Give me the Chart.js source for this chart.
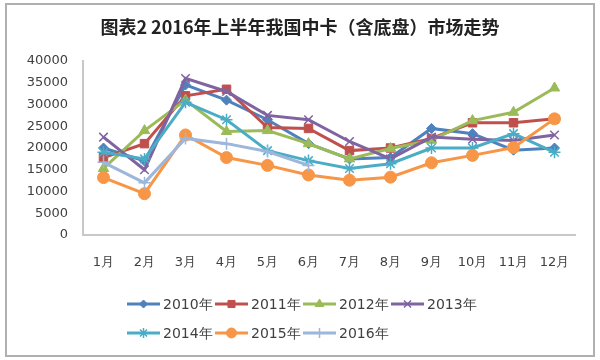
<!DOCTYPE html>
<html>
<head>
<meta charset="utf-8">
<script src="https://cdn.jsdelivr.net/npm/chart.js@4.4.0/dist/chart.umd.min.js"></script>
<style>
  html, body { margin: 0; padding: 0; background: #fff; }
  #wrap { position: relative; width: 600px; height: 360px; }
  #frame { position: absolute; left: 5px; top: 3px; width: 586px; height: 350px; border: 2px solid #b0b0b0; }
  canvas { position: absolute; left: 0; top: 0; }
</style>
</head>
<body>
<div id="wrap">
  <div id="frame"></div>
  <canvas id="chart" width="600" height="360"></canvas>
</div>
<script>
// 数据
const titleText = '图表2 2016年上半年我国中卡（含底盘）市场走势';
const months = ['1月', '2月', '3月', '4月', '5月', '6月', '7月', '8月', '9月', '10月', '11月', '12月'];
const seriesNames = ['2010年', '2011年', '2012年', '2013年', '2014年', '2015年', '2016年'];
const y2010 = [20000, 17000, 34500, 31000, 26500, 21000, 17500, 17800, 24500, 23300, 19500, 20000];
const y2011 = [17800, 21000, 32000, 33500, 24700, 24500, 19400, 20000, 22200, 25800, 25800, 26700];
const y2012 = [15300, 24000, 31000, 23800, 24000, 21000, 17500, 19900, 21800, 26300, 28200, 33800];
const y2013 = [22500, 15000, 36000, 33000, 27500, 26500, 21500, 17500, 22500, 22000, 21700, 23000];
const y2014 = [19000, 17500, 30500, 26500, 19400, 17100, 15300, 16400, 20000, 20000, 23300, 19000];
const y2015 = [13200, 9500, 23000, 17800, 16000, 13800, 12600, 13300, 16600, 18300, 20100, 26700];
const y2016 = [16700, 12000, 22200, 21000, 19200, 16000];
const yTicks = [0, 5000, 10000, 15000, 20000, 25000, 30000, 35000, 40000];

// 样式
const colors = ['#4F81BD', '#C0504D', '#9BBB59', '#8064A2', '#4BACC6', '#F79646', '#9CB6DC'];
const markers = [
    { style: 'rectRot', r: 5, bw: 1 },
    { style: 'rect', r: 6, bw: 1 },
    { style: 'triangle', r: 6, bw: 1 },
    { style: 'crossRot', r: 6, bw: 1.5 },
    { style: 'star', r: 6, bw: 1.5 },
    { style: 'circle', r: 6, bw: 1 },
    { style: 'cross', r: 6, bw: 1.5 }
];
const allData = [y2010, y2011, y2012, y2013, y2014, y2015, y2016];
const tickFont = { family: 'DejaVu Sans', size: 13 };

const datasets = allData.map((d, i) => ({
    label: seriesNames[i],
    data: d,
    borderColor: colors[i],
    backgroundColor: colors[i],
    pointBackgroundColor: colors[i],
    pointBorderColor: colors[i],
    pointStyle: markers[i].style,
    pointRadius: markers[i].r,
    pointBorderWidth: markers[i].bw,
    borderWidth: 3,
    tension: 0,
    fill: false,
    order: 10 - i
}));

// 标题和图例
const decorPlugin = {
    id: 'decor',
    afterDraw(chart) {
        const ctx = chart.ctx;
        ctx.save();
        ctx.fillStyle = '#222';
        ctx.font = 'bold 18px "Noto Sans CJK SC"';
        ctx.textAlign = 'center';
        ctx.textBaseline = 'middle';
        ctx.fillText(titleText, 300, 27);

        ctx.font = '14px "DejaVu Sans"';
        ctx.textAlign = 'left';
        seriesNames.forEach((name, i) => {
            const row = i < 4 ? 0 : 1;
            const col = i < 4 ? i : i - 4;
            const x = 127 + col * 88;
            const y = row === 0 ? 304 : 333;
            ctx.strokeStyle = colors[i];
            ctx.fillStyle = colors[i];
            ctx.lineWidth = 3;
            ctx.beginPath();
            ctx.moveTo(x, y);
            ctx.lineTo(x + 33, y);
            ctx.stroke();
            ctx.lineWidth = markers[i].bw;
            Chart.helpers.drawPoint(ctx, {
                pointStyle: markers[i].style,
                radius: markers[i].r - 1,
                rotation: 0,
                borderWidth: markers[i].bw
            }, x + 16.5, y);
            ctx.fillStyle = '#404040';
            ctx.fillText(name, x + 36, y + 1);
        });
        ctx.restore();
    }
};

new Chart(document.getElementById('chart'), {
    type: 'line',
    data: { labels: months, datasets: datasets },
    options: {
        responsive: false,
        animation: false,
        layout: { padding: { left: 0, right: 25, top: 61, bottom: 80 } },
        plugins: {
            legend: { display: false },
            title: { display: false },
            tooltip: { enabled: false }
        },
        scales: {
            x: {
                offset: true,
                grid: { display: false, drawTicks: false },
                border: { display: true, color: '#c8c8c8', width: 2 },
                ticks: { color: '#404040', font: tickFont, padding: 20 },
                afterFit(scale) { scale.height = 45; }
            },
            y: {
                min: 0,
                max: 40000,
                afterBuildTicks(scale) { scale.ticks = yTicks.map(v => ({ value: v })); },
                grid: { display: false, drawTicks: false },
                border: { display: true, color: '#c8c8c8', width: 2 },
                ticks: { color: '#404040', font: tickFont, padding: 15, callback: v => String(v) },
                afterFit(scale) { scale.width = 83; }
            }
        }
    },
    plugins: [decorPlugin]
});
</script>
</body>
</html>
